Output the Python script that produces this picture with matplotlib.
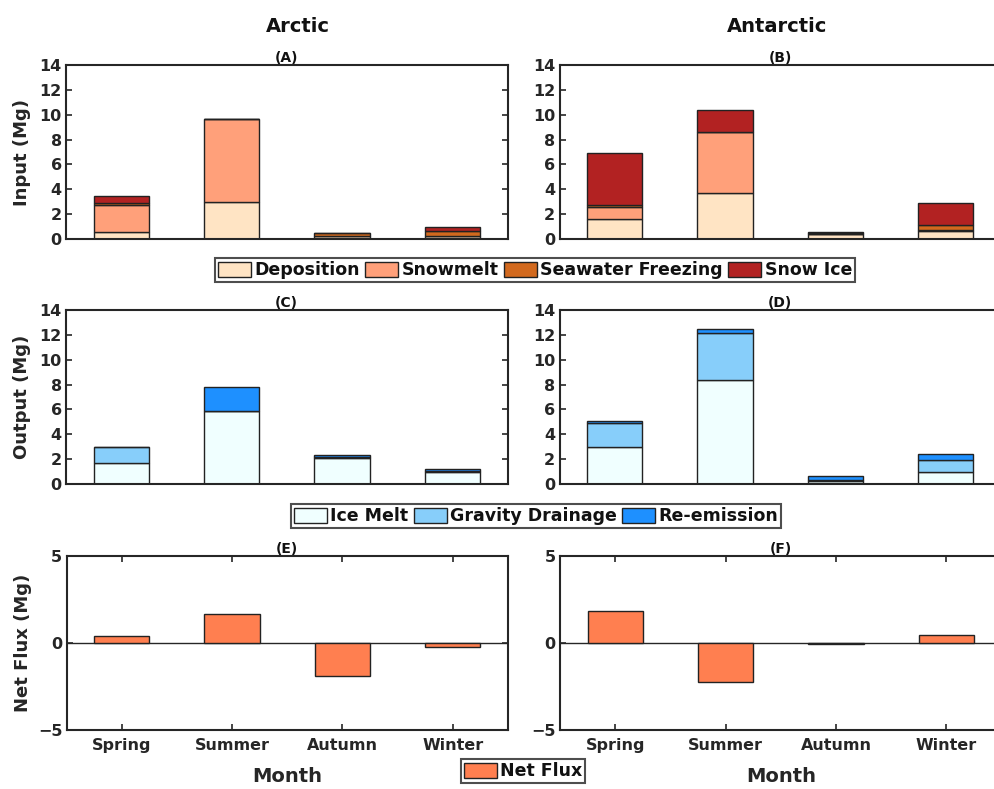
import matplotlib
matplotlib.use("Agg")
import matplotlib.pyplot as plt
from matplotlib.patches import Patch
import numpy as np

plt.rcParams['font.family'] = ['DejaVu Sans']
plt.rcParams['font.weight'] = 'bold'

seasons = ["Spring", "Summer", "Autumn", "Winter"]

# Inputs (Mg)
arc_deposition = [0.55, 2.95, 0.27, 0.25]
arc_snowmelt = [2.15, 6.70, 0.00, 0.00]
arc_seawater = [0.18, 0.00, 0.20, 0.40]
arc_snowice = [0.62, 0.00, 0.03, 0.35]

ant_deposition = [1.58, 3.67, 0.38, 0.65]
ant_snowmelt = [0.99, 4.92, 0.02, 0.05]
ant_seawater = [0.13, 0.05, 0.08, 0.45]
ant_snowice = [4.18, 1.75, 0.08, 1.74]

# Outputs (Mg)
arc_icemelt = [1.66, 5.84, 2.09, 0.96]
arc_drainage = [1.29, 0.00, 0.05, 0.10]
arc_reemission = [0.05, 1.98, 0.19, 0.14]

ant_icemelt = [3.00, 8.40, 0.27, 0.96]
ant_drainage = [1.90, 3.73, 0.08, 0.97]
ant_reemission = [0.13, 0.34, 0.27, 0.45]

# Net flux (Mg)
arc_net = [0.42, 1.68, -1.89, -0.23]
ant_net = [1.84, -2.24, -0.08, 0.46]

input_names = ["Deposition", "Snowmelt", "Seawater Freezing", "Snow Ice"]
input_colors = ["#FFE4C4", "#FFA07A", "#D2691E", "#B22222"]
output_names = ["Ice Melt", "Gravity Drainage", "Re-emission"]
output_colors = ["#F0FFFF", "#87CEFA", "#1E90FF"]
net_color = "#FF7F50"

EDGE = "#222222"
SPINE = "#262626"
W, H = 994, 789

fig = plt.figure(figsize=(W / 100, H / 100), dpi=100)


def make_ax(left, top, width=441.5, height=174.0):
    return fig.add_axes([left / W, 1 - (top + height) / H, width / W, height / H])


def style(ax, ylim, yticks, xlabels=False):
    ax.set_xlim(0.5, 4.5)
    ax.set_ylim(*ylim)
    ax.set_yticks(yticks)
    for s in ax.spines.values():
        s.set_color(SPINE)
        s.set_linewidth(1.5)
    ax.tick_params(axis='y', direction='in', length=4, width=1.2, color=SPINE,
                   right=True, labelsize=11.5, labelcolor="#262626", pad=3)
    if xlabels:
        ax.set_xticks(range(1, 5))
        ax.set_xticklabels(seasons)
        ax.tick_params(axis='x', direction='in', length=4, width=1.2, color=SPINE,
                       top=True, labelsize=11.5, labelcolor="#262626", pad=6)
    else:
        ax.set_xticks([])


def stacked(ax, series, colors):
    x = np.arange(1, 5)
    bottom = np.zeros(4)
    for vals, c in zip(series, colors):
        v = np.array(vals, dtype=float)
        ax.bar(x, v, width=0.5, bottom=bottom, color=c, edgecolor=EDGE, linewidth=1.0)
        bottom += v


axA = make_ax(66, 65)
axB = make_ax(559.5, 65)
axC = make_ax(66, 310)
axD = make_ax(559.5, 310)
axE = make_ax(66.5, 556)
axF = make_ax(560, 556)

stacked(axA, [arc_deposition, arc_snowmelt, arc_seawater, arc_snowice], input_colors)
stacked(axB, [ant_deposition, ant_snowmelt, ant_seawater, ant_snowice], input_colors)
stacked(axC, [arc_icemelt, arc_drainage, arc_reemission], output_colors)
stacked(axD, [ant_icemelt, ant_drainage, ant_reemission], output_colors)

for ax, net in [(axE, arc_net), (axF, ant_net)]:
    ax.bar(np.arange(1, 5), net, width=0.5, color=net_color, edgecolor=EDGE, linewidth=1.0)
    ax.axhline(0, color="#262626", linewidth=1.0, zorder=0)

for ax in (axA, axB, axC, axD):
    style(ax, (0, 14), range(0, 15, 2))
for ax in (axE, axF):
    style(ax, (-5, 5), [-5, 0, 5], xlabels=True)

for ax, t in zip((axA, axB, axC, axD, axE, axF), "ABCDEF"):
    ax.set_title(f"({t})", fontsize=10, fontweight='bold', pad=2, color="#111111")

axA.set_ylabel("Input (Mg)", fontsize=13, fontweight='bold', labelpad=6, color="#262626")
axC.set_ylabel("Output (Mg)", fontsize=13, fontweight='bold', labelpad=6, color="#262626")
axE.set_ylabel("Net Flux (Mg)", fontsize=13, fontweight='bold', labelpad=4, color="#262626")
for ax in (axE, axF):
    ax.set_xlabel("Month", fontsize=14, fontweight='bold', labelpad=10, color="#262626")

fig.text(298 / W, 1 - 26 / H, "Arctic", ha='center', va='center',
         fontsize=14, fontweight='bold', color="#111111")
fig.text(777 / W, 1 - 26 / H, "Antarctic", ha='center', va='center',
         fontsize=14, fontweight='bold', color="#111111")


def legend(names, colors, cx, cy):
    handles = [Patch(facecolor=c, edgecolor=EDGE, linewidth=1.0) for c in colors]
    leg = fig.legend(handles, names, loc='center', bbox_to_anchor=(cx / W, 1 - cy / H),
                     ncol=len(names), frameon=True, fancybox=False, fontsize=12.5,
                     handlelength=1.9, handleheight=0.95, handletextpad=0.2,
                     columnspacing=0.3, borderpad=0.15, borderaxespad=0)
    fr = leg.get_frame()
    fr.set_edgecolor("#222222")
    fr.set_linewidth(1.5)
    for txt in leg.get_texts():
        txt.set_fontweight('bold')
        txt.set_color("#111111")
    return leg


legend(input_names, input_colors, 535, 270)
legend(output_names, output_colors, 536, 516)
legend(["Net Flux"], [net_color], 523, 771)

fig.savefig("out.png", dpi=100)
